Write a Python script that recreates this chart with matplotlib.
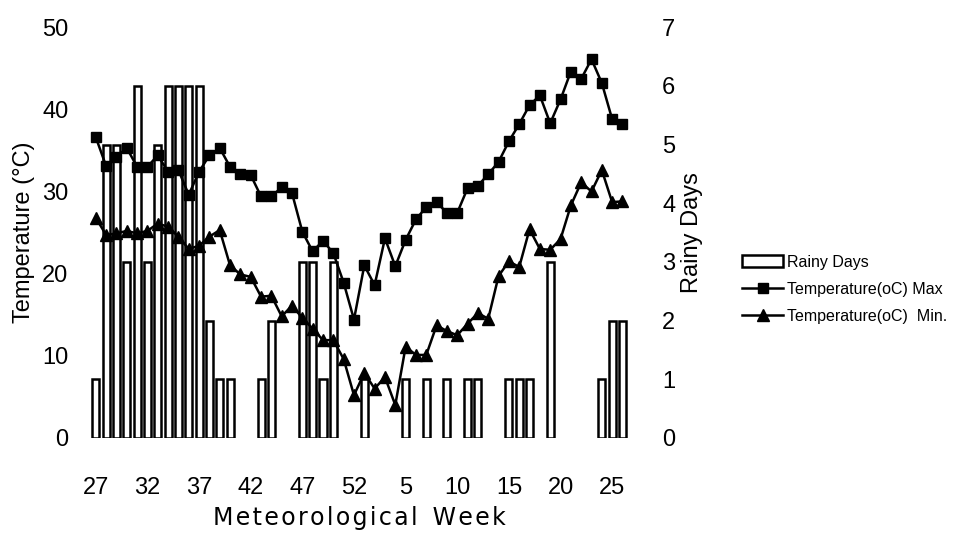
import matplotlib
matplotlib.use("Agg")
import matplotlib.pyplot as plt
import numpy as np

plt.rcParams['font.family'] = ['Liberation Sans', 'DejaVu Sans']

# meteorological weeks 27..52 then 1..26
weeks = list(range(27, 53)) + list(range(1, 27))

rainy_days = [1, 5, 5, 3, 6, 3, 5, 6, 6, 6, 6, 2, 1, 1, 0, 0, 1, 2, 0, 0,
              3, 3, 1, 3, 0, 0, 1, 0, 0, 0, 1, 0, 1, 0, 1, 0, 1, 1, 0, 0,
              1, 1, 1, 0, 3, 0, 0, 0, 0, 1, 2, 2]

t_max = [36.6, 33.1, 34.2, 35.3, 33.0, 33.0, 34.4, 32.4, 32.6, 29.6, 32.4, 34.4,
         35.3, 33.0, 32.1, 32.0, 29.4, 29.4, 30.5, 29.8, 25.1, 22.7, 24.0, 22.5,
         18.9, 14.4, 21.0, 18.6, 24.3, 20.9, 24.1, 26.6, 28.1, 28.7, 27.4, 27.4,
         30.4, 30.7, 32.1, 33.6, 36.1, 38.2, 40.5, 41.7, 38.3, 41.2, 44.6, 43.7,
         46.1, 43.2, 38.8, 38.2]

t_min = [26.8, 24.7, 24.9, 25.2, 24.9, 25.2, 26.1, 25.7, 24.5, 23.0, 23.4, 24.5,
         25.3, 21.0, 19.9, 19.6, 17.2, 17.3, 14.8, 16.1, 14.6, 13.3, 11.9, 11.9,
         9.6, 5.2, 7.9, 6.0, 7.4, 4.0, 11.1, 10.1, 10.1, 13.7, 13.0, 12.5,
         13.9, 15.2, 14.5, 19.7, 21.5, 20.8, 25.4, 23.0, 22.9, 24.2, 28.3, 31.1,
         30.0, 32.6, 28.7, 28.8]

x = np.arange(len(weeks))
rd = np.array(rainy_days)
wet = rd > 0  # weeks without rain get no bar at all

fig = plt.figure(figsize=(9.76, 5.55), dpi=100)
ax = fig.add_axes([0.090, 0.211, 0.557, 0.740])
ax2 = ax.twinx()

# bars behind, lines in front
ax.set_zorder(ax2.get_zorder() + 1)
ax.patch.set_visible(False)

bars = ax2.bar(x[wet], rd[wet], width=0.68, color='white', edgecolor='black',
               linewidth=1.8, label='Rainy Days')
l1, = ax.plot(x, t_max, color='black', lw=1.8, marker='s', ms=7,
              label='Temperature(oC) Max')
l2, = ax.plot(x, t_min, color='black', lw=1.8, marker='^', ms=8,
              label='Temperature(oC)  Min.')

ax.set_ylim(0, 50)
ax2.set_ylim(0, 7)
ax.set_xlim(-0.77, 51.87)
ax.set_yticks(range(0, 51, 10))
ax2.set_yticks(range(0, 8))
ax.set_xticks(x[::5])
ax.set_xticklabels([str(w) for w in weeks[::5]])

for a in (ax, ax2):
    for s in a.spines.values():
        s.set_visible(False)
    a.tick_params(length=0, labelsize=17)
ax.tick_params(axis='x', pad=28)
ax.tick_params(axis='y', pad=14)
ax2.tick_params(axis='y', pad=22)

ax.set_ylabel('Temperature (\u00b0C)', fontsize=17, labelpad=5)
ax2.set_ylabel('Rainy Days', fontsize=17, labelpad=4)
xlab = '\u200a'.join('Meteorological') + '  ' + '\u200a'.join('Week')
ax.set_xlabel(xlab, fontsize=17, labelpad=5, family=['DejaVu Sans'])

fig.legend([bars, l1, l2], [bars.get_label(), l1.get_label(), l2.get_label()],
           loc='center left', bbox_to_anchor=(0.752, 0.479), frameon=False,
           fontsize=11.5, handlelength=2.6, handletextpad=0.2, labelspacing=0.75,
           borderpad=0)

fig.savefig('out.png', dpi=100)
